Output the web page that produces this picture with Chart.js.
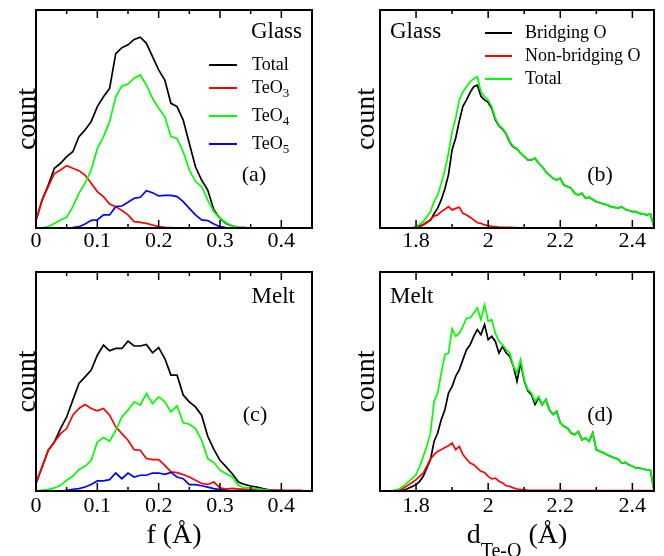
<!DOCTYPE html>
<html>
<head>
<meta charset="utf-8">
<script src="https://cdn.jsdelivr.net/npm/chart.js@4.4.1/dist/chart.umd.min.js"></script>
<style>
  body { margin: 0; background: #fff; }
  #fig { position: relative; width: 664px; height: 556px; }
  #fig canvas { position: absolute; }
</style>
</head>
<body>
<div id="fig">
  <canvas id="panelA" width="332" height="262" style="left:0;top:0"></canvas>
  <canvas id="panelB" width="332" height="262" style="left:332px;top:0"></canvas>
  <canvas id="panelC" width="332" height="294" style="left:0;top:262px"></canvas>
  <canvas id="panelD" width="332" height="294" style="left:332px;top:262px"></canvas>
</div>
<script>
// x bins of the f histograms (panels a, c)
const fBins = [
  0.00, 0.01, 0.02, 0.03, 0.04, 0.05, 0.06, 0.07, 0.08, 0.09,
  0.10, 0.11, 0.12, 0.13, 0.14, 0.15, 0.16, 0.17, 0.18, 0.19,
  0.20, 0.21, 0.22, 0.23, 0.24, 0.25, 0.26, 0.27, 0.28, 0.29,
  0.30, 0.31, 0.32, 0.33, 0.34, 0.35, 0.36, 0.37, 0.38, 0.39,
  0.40, 0.41, 0.42, 0.43, 0.44, 0.45
];

// x bins of the Te-O distance histograms (panels b, d)
const dBins = [
  1.70, 1.71, 1.72, 1.73, 1.74, 1.75, 1.76, 1.77, 1.78, 1.79,
  1.80, 1.81, 1.82, 1.83, 1.84, 1.85, 1.86, 1.87, 1.88, 1.89,
  1.90, 1.91, 1.92, 1.93, 1.94, 1.95, 1.96, 1.97, 1.98, 1.99,
  2.00, 2.01, 2.02, 2.03, 2.04, 2.05, 2.06, 2.07, 2.08, 2.09,
  2.10, 2.11, 2.12, 2.13, 2.14, 2.15, 2.16, 2.17, 2.18, 2.19,
  2.20, 2.21, 2.22, 2.23, 2.24, 2.25, 2.26, 2.27, 2.28, 2.29,
  2.30, 2.31, 2.32, 2.33, 2.34, 2.35, 2.36, 2.37, 2.38, 2.39,
  2.40, 2.41, 2.42, 2.43, 2.44, 2.45, 2.46
];

const fTickLabels = [0, 0.1, 0.2, 0.3, 0.4];
const dTickLabels = [1.8, 2, 2.2, 2.4];

const fSeriesNames = ["Total", "TeO3", "TeO4", "TeO5"];
const dSeriesNames = ["Bridging O", "Non-bridging O", "Total"];
const fColors = ["#000000", "#ff0000", "#00ff00", "#0000ff"];
const dColors = ["#000000", "#ff0000", "#00ff00"];

// (a) glass, f distribution
const glassTotal = [
  3.5, 12.8, 19.7, 27.4, 29.7, 32.7, 35.0, 41.9, 45.0, 48.8,
  55.7, 60.2, 64.0, 80.0, 82.7, 84.0, 86.5, 87.5, 84.7, 78.6,
  72.5, 67.9, 57.2, 55.7, 49.5, 38.8, 28.1, 22.0, 17.4, 8.3,
  4.4, 2.1, 0.9, 0.3, 0.15, 0, 0, 0, 0, 0,
  0, 0, 0, 0, 0, 0
];
const glassTeO3 = [
  3.5, 12.8, 19.0, 25.0, 26.6, 28.6, 27.4, 26.3, 24.3, 20.5,
  16.7, 14.4, 11.0, 9.8, 8.0, 6.0, 2.9, 2.6, 2.1, 1.4,
  0.6, 0.3, 0.15, 0, 0, 0, 0, 0, 0, 0,
  0, 0, 0, 0, 0, 0, 0, 0, 0, 0,
  0, 0, 0, 0, 0, 0
];
const glassTeO4 = [
  0, 0, 0.6, 2.1, 3.7, 4.9, 9.8, 15.9, 20.5, 26.6,
  36.5, 41.9, 48.8, 60.2, 65.1, 66.0, 68.7, 70.2, 65.6, 59.5,
  54.9, 51.1, 41.9, 41.1, 35.0, 26.6, 21.3, 19.0, 12.8, 7.5,
  4.4, 2.4, 0.9, 0.3, 0.15, 0, 0, 0, 0, 0,
  0, 0, 0, 0, 0, 0
];
const glassTeO5 = [
  0, 0, 0, 0, 0, 0, 0.15, 0.6, 1.8, 3.5,
  3.7, 6.0, 6.0, 9.8, 10.1, 11.8, 13.6, 14.1, 17.1, 16.2,
  14.7, 15.0, 15.0, 14.4, 12.1, 9.0, 6.0, 3.7, 3.4, 1.8,
  0.6, 0.15, 0, 0, 0, 0, 0, 0, 0, 0,
  0, 0, 0, 0, 0, 0
];

// (c) melt, f distribution
const meltTotal = [
  3.4, 11.0, 18.6, 22.4, 28.5, 33.8, 41.5, 49.1, 52.1, 55.2,
  62.0, 66.6, 64.0, 65.1, 65.1, 68.4, 66.2, 66.2, 66.9, 63.1,
  65.5, 60.5, 52.9, 52.9, 43.8, 40.7, 38.4, 34.6, 25.0, 19.0,
  14.0, 11.0, 7.9, 4.1, 3.0, 2.3, 1.8, 1.1, 0.5, 0.3,
  0.15, 0, 0, 0, 0, 0
];
const meltTeO3 = [
  3.7, 11.0, 18.6, 22.4, 26.2, 28.5, 34.6, 37.7, 39.5, 37.7,
  36.6, 37.7, 34.6, 29.3, 26.2, 23.2, 18.9, 18.6, 14.8, 14.3,
  14.3, 11.7, 8.7, 8.4, 7.5, 6.4, 4.9, 3.4, 3.0, 4.1,
  1.4, 0.9, 1.2, 0.9, 0.9, 0.6, 0.6, 0.6, 0.3, 0.3,
  0.3, 0.3, 0.3, 0.3, 0, 0
];
const meltTeO4 = [
  0, 0.3, 0.6, 1.4, 2.6, 4.9, 6.7, 9.8, 11.3, 14.0,
  22.4, 24.4, 22.7, 27.7, 33.8, 36.9, 40.7, 39.2, 44.5, 39.9,
  43.0, 40.7, 36.1, 38.9, 31.1, 30.5, 28.5, 23.2, 14.8, 13.0,
  9.5, 7.9, 6.4, 2.6, 1.4, 1.4, 1.1, 0.6, 0.3, 0.15,
  0, 0, 0, 0, 0, 0
];
const meltTeO5 = [
  0, 0, 0, 0, 0, 0.3, 0.8, 1.1, 1.8, 3.0,
  4.6, 4.6, 5.2, 8.2, 5.6, 8.2, 6.4, 7.2, 7.2, 8.2,
  8.2, 7.6, 8.5, 6.4, 5.6, 2.9, 2.9, 2.4, 1.8, 1.1,
  0.6, 0.3, 0, 0, 0, 0, 0, 0, 0, 0,
  0, 0, 0, 0, 0, 0
];

// (b) glass, Te-O distances
const glassBridging = [
  0, 0, 0, 0, 0, 0, 0, 0, 0, 0,
  0.2, 1.0, 1.5, 2.8, 3.5, 6.6, 9.1, 13.0, 18.0, 24.5,
  35.9, 41.3, 49.2, 55.8, 58.8, 62.2, 64.8, 65.5, 60.4, 58.8,
  57.6, 54.9, 49.7, 46.8, 45.4, 43.1, 39.3, 37.1, 36.3, 34.3,
  32.7, 31.2, 31.2, 32.0, 29.7, 28.1, 25.8, 24.3, 22.8, 22.0,
  22.8, 19.7, 19.0, 18.2, 15.9, 15.1, 15.9, 13.6, 14.1, 13.1,
  12.1, 11.6, 11.0, 10.6, 9.8, 9.5, 9.0, 9.8, 8.6, 8.0,
  7.5, 7.5, 6.7, 6.4, 6.0, 6.4, 0.6
];
const glassNonBridging = [
  0, 0, 0, 0, 0, 0, 0, 0, 0, 0,
  0, 0.6, 1.4, 2.4, 4.0, 5.5, 6.0, 7.5, 8.6, 9.8,
  8.3, 9.0, 9.5, 6.7, 6.0, 4.9, 3.7, 2.4, 2.1, 1.4,
  1.1, 0.8, 0.6, 0.4, 0.3, 0.3, 0.3, 0.2, 0.2, 0,
  0, 0, 0, 0, 0, 0, 0, 0, 0, 0,
  0, 0, 0, 0, 0, 0, 0, 0, 0, 0,
  0, 0, 0, 0, 0, 0, 0, 0, 0, 0,
  0, 0, 0, 0, 0, 0, 0
];
const glassDTotal = [
  0, 0, 0, 0, 0, 0, 0, 0, 0, 0.2,
  0.6, 1.7, 2.9, 5.2, 7.5, 12.1, 15.1, 20.5, 26.6, 34.3,
  44.2, 50.3, 58.7, 62.5, 64.8, 67.1, 68.5, 69.4, 62.5, 60.2,
  58.7, 55.7, 50.3, 47.2, 45.7, 43.4, 39.6, 37.3, 36.5, 34.3,
  32.7, 31.2, 31.2, 32.0, 29.7, 28.1, 25.8, 24.3, 22.8, 22.0,
  22.8, 19.7, 19.0, 18.2, 15.9, 15.1, 15.9, 13.6, 14.1, 13.1,
  12.1, 11.6, 11.0, 10.6, 9.8, 9.5, 9.0, 9.8, 8.6, 8.0,
  7.5, 7.5, 6.7, 6.4, 6.0, 6.4, 0.6
];

// (d) melt, Te-O distances
const meltBridging = [
  0, 0, 0, 0, 0, 0, 0.2, 0.6, 1.4, 2.1,
  2.9, 4.4, 6.7, 10.5, 14.3, 22.7, 26.5, 32.6, 37.1, 44.7,
  47.8, 52.4, 55.4, 60.0, 64.5, 66.8, 70.6, 73.7, 71.4, 76.0,
  69.1, 70.6, 68.3, 63.0, 66.0, 63.0, 61.5, 56.9, 50.1, 58.4,
  50.3, 45.8, 44.0, 39.5, 42.5, 39.4, 41.7, 37.1, 34.9, 36.4,
  31.1, 29.5, 28.8, 26.5, 25.7, 27.2, 23.4, 24.2, 22.7, 26.5,
  18.9, 18.1, 17.4, 16.6, 15.8, 15.1, 14.6, 12.8, 13.1, 12.0,
  11.3, 10.5, 10.5, 10.0, 9.7, 9.7, 0.3
];
const meltNonBridging = [
  0, 0, 0, 0, 0.2, 0.3, 0.9, 1.8, 2.9, 4.0,
  5.2, 6.7, 8.2, 11.3, 14.6, 16.6, 18.1, 18.9, 19.9, 20.7,
  21.9, 18.9, 20.4, 16.6, 14.6, 12.8, 12.0, 10.5, 9.0, 8.5,
  6.7, 5.5, 5.9, 4.4, 3.7, 2.4, 2.1, 1.4, 0.9, 0.6,
  0.6, 0.3, 0.3, 0.3, 0.3, 0.3, 0.3, 0.3, 0.3, 0.3,
  0.3, 0.15, 0.15, 0.15, 0.15, 0.15, 0.15, 0.15, 0.15, 0.15,
  0.15, 0.15, 0.15, 0.15, 0.15, 0.15, 0.15, 0.15, 0.15, 0.15,
  0.15, 0.15, 0.15, 0.15, 0.15, 0.15, 0.15
];
const meltDTotal = [
  0, 0, 0, 0, 0.3, 0.6, 1.7, 2.9, 4.4, 5.9,
  7.5, 11.3, 15.8, 20.4, 26.5, 40.9, 44.7, 53.9, 62.3, 63.0,
  74.0, 70.6, 72.1, 75.2, 79.0, 79.0, 81.3, 83.6, 78.2, 85.0,
  77.5, 78.2, 72.1, 68.3, 66.8, 64.5, 63.0, 56.9, 53.9, 60.0,
  50.8, 46.3, 44.7, 40.9, 43.2, 39.4, 41.7, 37.1, 34.9, 36.4,
  31.1, 29.5, 28.8, 26.5, 25.7, 27.2, 23.4, 24.2, 22.7, 26.5,
  18.9, 18.1, 17.4, 16.6, 15.8, 15.1, 14.6, 12.8, 13.1, 12.0,
  11.3, 10.5, 10.5, 10.0, 9.7, 9.7, 0.3
];

const FONT = '"Liberation Serif", "Times New Roman", serif';
Chart.defaults.font.family = FONT;
Chart.defaults.color = "#000";

// "TeO3" -> main text + subscript digit
function splitSub(label) {
  const m = label.match(/^(.*?)(\d+)$/);
  return m ? { text: m[1], sub: m[2] } : { text: label };
}

// text with optional subscript and trailing part
function drawRich(ctx, item, x, y, size, align) {
  const subSize = Math.round(size * 0.72);
  const main = item.text || "", sub = item.sub || "", tail = item.tail || "";
  const big = size + "px " + FONT, small = subSize + "px " + FONT;
  ctx.font = big;
  const w1 = ctx.measureText(main).width;
  const w3 = ctx.measureText(tail).width;
  ctx.font = small;
  const w2 = ctx.measureText(sub).width;
  const total = w1 + w2 + w3;
  let x0 = x;
  if (align === "center") x0 = x - total / 2;
  else if (align === "right") x0 = x - total;
  ctx.textAlign = "left";
  ctx.textBaseline = "middle";
  ctx.fillStyle = "#000";
  ctx.font = big;
  ctx.fillText(main, x0, y);
  if (sub) {
    ctx.font = small;
    ctx.fillText(sub, x0 + w1, y + size * (item.subShift || 0.32));
  }
  if (tail) {
    ctx.font = big;
    ctx.fillText(tail, x0 + w1 + w2, y);
  }
}

// frame, inward ticks on top and bottom, labels and legend
const decor = {
  id: "decor",
  afterDatasetsDraw(chart, args, opts) {
    const { ctx, chartArea: area } = chart;
    const x = chart.scales.x;
    ctx.save();
    ctx.strokeStyle = "#000";
    ctx.lineWidth = 1.5;
    x.ticks.forEach(t => {
      if (t.value <= x.min + 1e-9 || t.value >= x.max - 1e-9) return;
      const px = x.getPixelForValue(t.value);
      const len = t.label ? 8 : 4;
      ctx.beginPath();
      ctx.moveTo(px, area.bottom);
      ctx.lineTo(px, area.bottom - len);
      ctx.moveTo(px, area.top);
      ctx.lineTo(px, area.top + len);
      ctx.stroke();
    });
    ctx.lineWidth = 2;
    ctx.strokeRect(area.left, area.top, area.right - area.left, area.bottom - area.top);

    (opts.notes || []).forEach(n => {
      drawRich(ctx, n, area.left + n.x, area.top + n.y, n.size, n.align);
    });

    if (opts.legend) {
      const lg = opts.legend;
      chart.data.datasets.forEach((ds, i) => {
        const y = area.top + lg.rows[i];
        ctx.strokeStyle = ds.borderColor;
        ctx.lineWidth = 2;
        ctx.beginPath();
        ctx.moveTo(area.left + lg.x0, y);
        ctx.lineTo(area.left + lg.x1, y);
        ctx.stroke();
        drawRich(ctx, splitSub(ds.label), area.left + lg.tx, y, lg.size, "left");
      });
    }

    if (opts.xTitle) {
      drawRich(ctx, opts.xTitle, (area.left + area.right) / 2, x.bottom - 14, 28, "center");
    }
    ctx.restore();
  }
};

function makeChart(id, cfg) {
  const n = cfg.series.length;
  return new Chart(document.getElementById(id), {
    type: "line",
    data: {
      datasets: cfg.series.map((vals, i) => ({
        label: cfg.names[i],
        data: cfg.bins.map((b, k) => ({ x: b, y: vals[k] })),
        borderColor: cfg.colors[i],
        borderWidth: 1.7,
        pointRadius: 0,
        tension: 0,
        fill: false,
        order: n - i   // later series drawn on top
      }))
    },
    options: {
      responsive: false,
      animation: false,
      devicePixelRatio: 1,
      layout: { padding: cfg.padding },
      plugins: {
        legend: { display: false },
        tooltip: { enabled: false },
        decor: cfg.decor
      },
      scales: {
        x: {
          type: "linear",
          min: cfg.xMin,
          max: cfg.xMax,
          border: { display: false },
          grid: { display: false, drawTicks: false, tickLength: 0 },
          ticks: {
            stepSize: cfg.step,
            includeBounds: false,
            autoSkip: false,
            maxRotation: 0,
            padding: cfg.tickPad,
            font: { size: 22 },
            color: "#000",
            callback: v => cfg.tickLabels.some(l => Math.abs(l - v) < 1e-6)
              ? String(parseFloat(v.toFixed(3))) : ""
          },
          title: {
            display: cfg.xTitle !== undefined,
            text: cfg.xTitle || "",
            font: { size: 28, lineHeight: 1 },
            padding: 0,
            color: "#000"
          }
        },
        y: {
          min: 0,
          max: 100,
          border: { display: false },
          grid: { display: false, drawTicks: false, tickLength: 0 },
          ticks: { display: false },
          title: {
            display: true,
            text: "count",
            font: { size: 28, lineHeight: 0.8 },
            padding: cfg.yTitlePad,
            color: "#000"
          }
        }
      }
    },
    plugins: [decor]
  });
}

// (a) Glass, f
makeChart("panelA", {
  bins: fBins,
  series: [glassTotal, glassTeO3, glassTeO4, glassTeO5],
  names: fSeriesNames,
  colors: fColors,
  xMin: 0, xMax: 0.45, step: 0.05,
  tickLabels: fTickLabels,
  tickPad: 0,
  padding: { left: 13.6, top: 10, right: 20, bottom: 7.6 },
  yTitlePad: { top: 3, bottom: -3 },
  decor: {
    notes: [
      { text: "Glass", x: 266, y: 21.5, size: 23, align: "right" },
      { text: "(a)", x: 218, y: 165, size: 22, align: "center" }
    ],
    legend: { x0: 173, x1: 201, tx: 216, rows: [55, 78, 106, 134], size: 18 }
  }
});

// (b) Glass, d(Te-O)
makeChart("panelB", {
  bins: dBins,
  series: [glassBridging, glassNonBridging, glassDTotal],
  names: dSeriesNames,
  colors: dColors,
  xMin: 1.7, xMax: 2.46, step: 0.1,
  tickLabels: dTickLabels,
  tickPad: 0,
  padding: { left: 19.8, top: 10, right: 10, bottom: 7.6 },
  yTitlePad: { top: 3.5, bottom: 2.3 },
  decor: {
    notes: [
      { text: "Glass", x: 10, y: 21.5, size: 23, align: "left" },
      { text: "(b)", x: 220, y: 165, size: 22, align: "center" }
    ],
    legend: { x0: 105, x1: 132, tx: 145, rows: [23, 46, 69], size: 18 }
  }
});

// (c) Melt, f
makeChart("panelC", {
  bins: fBins,
  series: [meltTotal, meltTeO3, meltTeO4, meltTeO5],
  names: fSeriesNames,
  colors: fColors,
  xMin: 0, xMax: 0.45, step: 0.05,
  tickLabels: fTickLabels,
  tickPad: 2,
  xTitle: "f (Å)",
  padding: { left: 13.6, top: 10, right: 20, bottom: 6.6 },
  yTitlePad: { top: 3, bottom: -3 },
  decor: {
    notes: [
      { text: "Melt", x: 259, y: 24.6, size: 23, align: "right" },
      { text: "(c)", x: 219, y: 143, size: 22, align: "center" }
    ]
  }
});

// (d) Melt, d(Te-O); axis title drawn with subscript by the decor plugin
makeChart("panelD", {
  bins: dBins,
  series: [meltBridging, meltNonBridging, meltDTotal],
  names: dSeriesNames,
  colors: dColors,
  xMin: 1.7, xMax: 2.46, step: 0.1,
  tickLabels: dTickLabels,
  tickPad: 2,
  xTitle: "",
  padding: { left: 19.8, top: 10, right: 10, bottom: 6.6 },
  yTitlePad: { top: 3.5, bottom: 2.3 },
  decor: {
    notes: [
      { text: "Melt", x: 10, y: 24.6, size: 23, align: "left" },
      { text: "(d)", x: 220, y: 143, size: 22, align: "center" }
    ],
    xTitle: { text: "d", sub: "Te-O", tail: " (Å)", subShift: 0.6 }
  }
});
</script>
</body>
</html>
